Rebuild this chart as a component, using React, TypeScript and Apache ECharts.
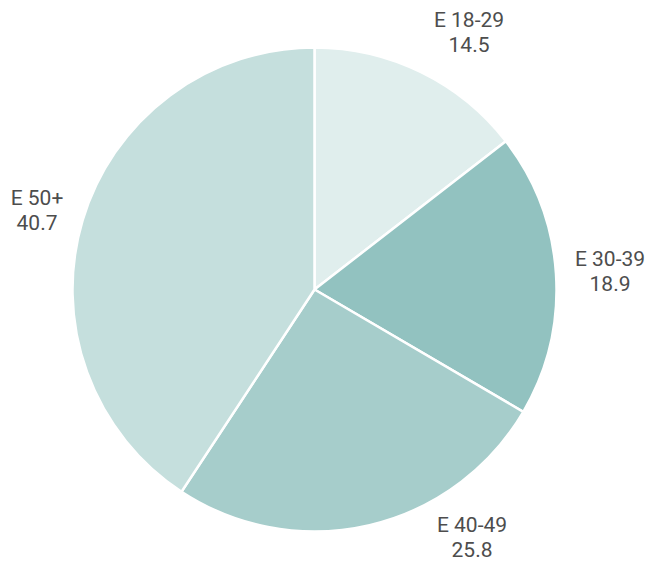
import React, { useEffect, useRef } from "react";
import * as echarts from "echarts";

const categories = ["E 18-29", "E 30-39", "E 40-49", "E 50+"];
const values = [14.5, 18.9, 25.8, 40.7];
const colors = ["#e0eeed", "#92c2c0", "#a6cdcb", "#c5dfdd"];

// label block centres relative to pie centre (layout only)
const labelOffsets = [
  [154.5, -257.5],
  [295.5, -18.5],
  [157.5, 247.5],
  [-277.5, -79.5],
];

const CX = 314.5;
const CY = 289.5;

export default function App() {
  const ref = useRef<HTMLDivElement>(null);
  useEffect(() => {
    document.body.style.margin = "0";
    const chart = echarts.init(ref.current!, null, { renderer: "svg" });
    chart.setOption({
      animation: false,
      backgroundColor: "#ffffff",
      series: [
        {
          type: "pie",
          center: [CX, CY],
          radius: [0, 242],
          startAngle: 90,
          clockwise: true,
          data: categories.map((c, i) => ({
            name: c,
            value: values[i],
            itemStyle: { color: colors[i] },
          })),
          itemStyle: { borderColor: "#ffffff", borderWidth: 2.5 },
          label: {
            show: true,
            position: "outside",
            formatter: (p: any) => `${p.name}\n${p.value}`,
            fontFamily: "Roboto, 'Noto Sans', sans-serif",
            fontSize: 21,
            lineHeight: 25,
            color: "#4d4d4d",
            align: "center",
            overflow: "none",
          },
          labelLine: { show: false },
          labelLayout: (p: any) => {
            const o = labelOffsets[p.dataIndex];
            return {
              x: CX + o[0],
              y: CY + o[1],
              align: "center",
              verticalAlign: "middle",
            };
          },
          emphasis: { disabled: true },
        },
      ],
    });
    return () => chart.dispose();
  }, []);
  return <div ref={ref} style={{ width: 652, height: 567 }} />;
}
